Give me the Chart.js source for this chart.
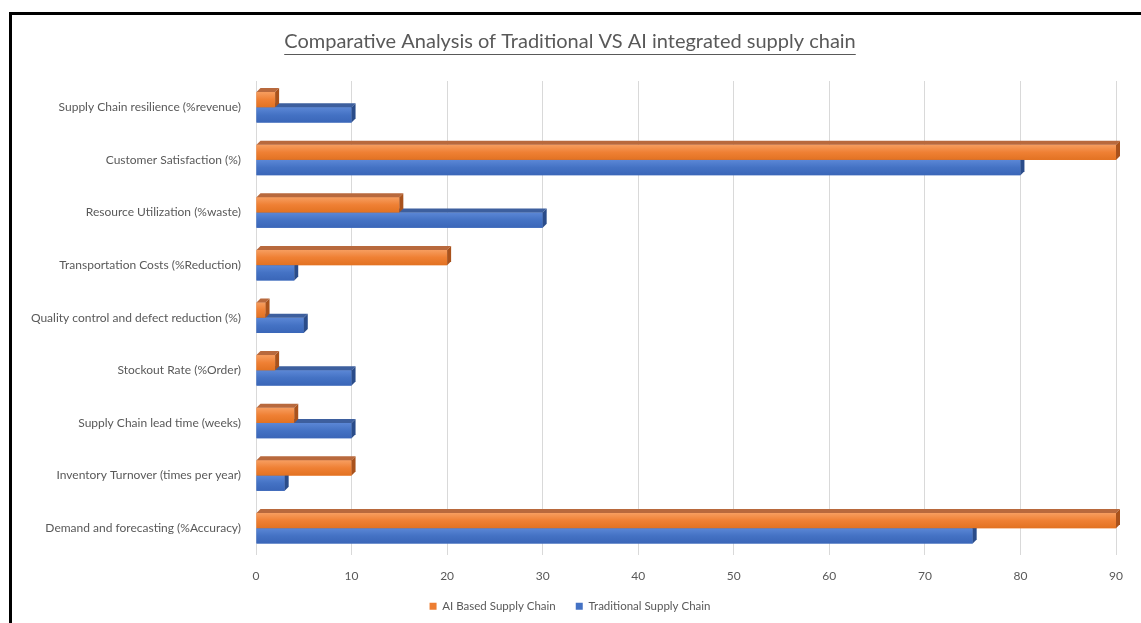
<!DOCTYPE html>
<html lang="en">
<head>
    <meta charset="UTF-8">
    <title>Traditional VS AI supply chain</title>
    <script src="https://cdn.jsdelivr.net/npm/chart.js"></script>
    <style>
        html, body { margin: 0; padding: 0; background: #fff; }
        .frame { position: absolute; left: 0; top: 0; width: 1141px; height: 623px; overflow: hidden; }
        /* black frame corner of the original screenshot */
        .edge {
            position: absolute; left: 9px; top: 12px; right: -10px; bottom: -10px;
            border-left: 3px solid #000; border-top: 3px solid #000;
            pointer-events: none;
        }
    </style>
</head>
<body>
<div class="frame">
    <canvas id="myChart" width="1141" height="623"></canvas>
    <div class="edge"></div>
</div>

<script>
    const categories = [
        'Supply Chain resilience (%revenue)',
        'Customer Satisfaction (%)',
        'Resource Utilization (%waste)',
        'Transportation Costs (%Reduction)',
        'Quality control and defect reduction (%)',
        'Stockout Rate (%Order)',
        'Supply Chain lead time (weeks)',
        'Inventory Turnover (times per year)',
        'Demand and forecasting (%Accuracy)'
    ];
    const aiBased = [2, 90, 15, 20, 1, 2, 4, 10, 90];
    const traditional = [10, 80, 30, 4, 5, 10, 10, 3, 75];

    const textColor = '#595959';
    const fontFamily = 'Lato, "Open Sans", sans-serif';

    // colours for the fake 3d bars: front gradient, top face, side face
    const shades = [
        { light: '#f79e60', mid: '#ef8034', dark: '#e27222', top: '#b8693d', side: '#a9521c' },
        { light: '#5b87d6', mid: '#4472c4', dark: '#3a66b8', top: '#3d5f9e', side: '#2a4c8a' }
    ];
    const depth = 4;

    const bar3d = {
        id: 'bar3d',
        afterDatasetsDraw(chart) {
            const ctx = chart.ctx;
            ctx.save();
            // blue first so the orange bar sits over its top face
            for (let i = chart.data.datasets.length - 1; i >= 0; i--) {
                const meta = chart.getDatasetMeta(i);
                if (meta.hidden) continue;
                const c = shades[i];
                meta.data.forEach(bar => {
                    const p = bar.getProps(['x', 'y', 'base', 'height'], true);
                    const top = p.y - p.height / 2;
                    const bottom = p.y + p.height / 2;
                    const left = Math.min(p.base, p.x);
                    const right = Math.max(p.base, p.x);

                    const g = ctx.createLinearGradient(0, top, 0, bottom);
                    g.addColorStop(0, c.light);
                    g.addColorStop(0.5, c.mid);
                    g.addColorStop(1, c.dark);
                    ctx.fillStyle = g;
                    ctx.fillRect(left, top, right - left, bottom - top);

                    ctx.fillStyle = c.top;
                    ctx.beginPath();
                    ctx.moveTo(left, top);
                    ctx.lineTo(left + depth, top - depth);
                    ctx.lineTo(right + depth, top - depth);
                    ctx.lineTo(right, top);
                    ctx.closePath();
                    ctx.fill();

                    ctx.fillStyle = c.side;
                    ctx.beginPath();
                    ctx.moveTo(right, top);
                    ctx.lineTo(right + depth, top - depth);
                    ctx.lineTo(right + depth, bottom - depth);
                    ctx.lineTo(right, bottom);
                    ctx.closePath();
                    ctx.fill();
                });
            }
            ctx.restore();
        }
    };

    // chart.js has no underline option for the title
    const titleUnderline = {
        id: 'titleUnderline',
        afterDraw(chart) {
            const tb = chart.titleBlock;
            if (!tb) return;
            const ctx = chart.ctx;
            const opts = chart.options.plugins.title;
            ctx.save();
            ctx.font = opts.font.size + 'px ' + fontFamily;
            const w = ctx.measureText(opts.text).width;
            const cx = (tb.left + tb.right) / 2;
            const y = tb.top + opts.padding.top + opts.font.size * 1.2;
            ctx.strokeStyle = textColor;
            ctx.lineWidth = 1;
            ctx.beginPath();
            ctx.moveTo(cx - w / 2, Math.round(y) + 0.5);
            ctx.lineTo(cx + w / 2, Math.round(y) + 0.5);
            ctx.stroke();
            ctx.restore();
        }
    };

    const ctx = document.getElementById('myChart').getContext('2d');
    const myChart = new Chart(ctx, {
        type: 'bar',
        data: {
            labels: categories,
            datasets: [
                {
                    label: 'AI Based Supply Chain',
                    data: aiBased,
                    backgroundColor: '#ed7d31'
                },
                {
                    label: 'Traditional Supply Chain',
                    data: traditional,
                    backgroundColor: '#4472c4'
                }
            ]
        },
        options: {
            indexAxis: 'y',
            responsive: false,
            animation: false,
            categoryPercentage: 0.58,
            barPercentage: 1,
            layout: {
                padding: { top: 10, right: 25, bottom: 1, left: 24 }
            },
            scales: {
                x: {
                    min: 0,
                    max: 90,
                    ticks: {
                        stepSize: 10,
                        color: textColor,
                        padding: 14,
                        font: { family: fontFamily, size: 12 }
                    },
                    grid: { color: '#d9d9d9', drawTicks: false },
                    border: { display: false },
                    afterFit(scale) { scale.height = 26; }
                },
                y: {
                    ticks: {
                        color: textColor,
                        padding: 15,
                        font: { family: fontFamily, size: 12 }
                    },
                    grid: { display: false, drawTicks: false },
                    border: { display: false },
                    afterFit(scale) { scale.width = 232; }
                }
            },
            plugins: {
                title: {
                    display: true,
                    text: 'Comparative Analysis of Traditional VS AI integrated supply chain',
                    color: textColor,
                    font: { family: fontFamily, size: 20, weight: 'normal' },
                    padding: { top: 20, bottom: 27 }
                },
                legend: {
                    position: 'bottom',
                    labels: {
                        boxWidth: 7,
                        boxHeight: 7,
                        color: textColor,
                        padding: 20,
                        font: { family: fontFamily, size: 11.5 }
                    }
                },
                tooltip: { enabled: false }
            }
        },
        plugins: [bar3d, titleUnderline]
    });
</script>
</body>
</html>
